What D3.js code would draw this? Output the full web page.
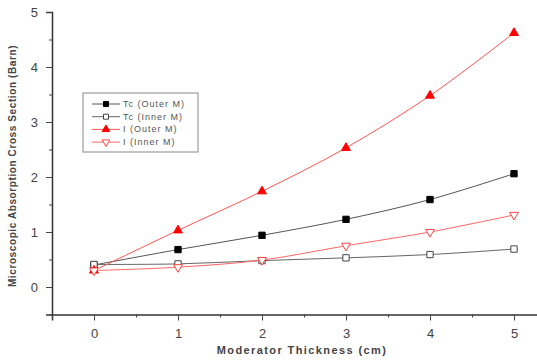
<!DOCTYPE html>
<html>
<head>
<meta charset="utf-8">
<script src="https://cdn.jsdelivr.net/npm/d3@7"></script>
<style>
  body { margin: 0; background: #fff; }
  text { font-family: "Liberation Sans", Arial, sans-serif; fill: #333; }
</style>
</head>
<body>
<div id="chart"></div>
<script>
const width = 537, height = 362;

// data
const thickness = [0, 1, 2, 3, 4, 5];
const tcOuter = [0.40, 0.68, 0.94, 1.23, 1.59, 2.06];
const tcInner = [0.41, 0.42, 0.48, 0.53, 0.59, 0.69];
const iOuter = [0.30, 1.03, 1.74, 2.53, 3.48, 4.62];
const iInner = [0.30, 0.36, 0.49, 0.75, 1.00, 1.31];
const seriesNames = ["Tc (Outer M)", "Tc (Inner M)", "I (Outer M)", "I (Inner M)"];
const xTicks = [0, 1, 2, 3, 4, 5];
const yTicks = [0, 1, 2, 3, 4, 5];

const series = [
    {name: seriesNames[0], values: tcOuter, color: "#000", line: "#555", symbol: d3.symbolSquare, fill: true},
    {name: seriesNames[1], values: tcInner, color: "#444", line: "#666", symbol: d3.symbolSquare, fill: false},
    {name: seriesNames[2], values: iOuter, color: "#f00", line: "#f55", symbol: d3.symbolTriangle, fill: true},
    {name: seriesNames[3], values: iInner, color: "#f44", line: "#f66", symbol: d3.symbolTriangle, fill: false, down: true}
];

const x = d3.scaleLinear().domain([-0.5, 5.5]).range([52, 556]);
const y = d3.scaleLinear().domain([-0.5, 5]).range([314.5, 12]);

const svg = d3.select("#chart").append("svg")
    .attr("width", width)
    .attr("height", height);

// axes
const xAxis = svg.append("g")
    .attr("transform", "translate(0," + y(-0.5) + ")")
    .call(d3.axisBottom(x).tickValues(xTicks).tickSize(6).tickPadding(8).tickFormat(d3.format("d")));
xAxis.select(".domain").attr("stroke", "#333").attr("stroke-width", 1.5);
xAxis.selectAll(".tick line").attr("stroke", "#444");
xAxis.selectAll(".tick text").style("font-size", "13px").style("fill", "#444");
svg.append("g")
    .attr("transform", "translate(0," + y(-0.5) + ")")
    .call(d3.axisBottom(x).tickValues([-0.5, 0.5, 1.5, 2.5, 3.5, 4.5]).tickSize(3).tickFormat(""))
    .call(g => g.select(".domain").remove())
    .selectAll(".tick line").attr("stroke", "#444");

const yAxis = svg.append("g")
    .attr("transform", "translate(" + x(-0.5) + ",0)")
    .call(d3.axisLeft(y).tickValues(yTicks).tickSize(6).tickPadding(8).tickFormat(d3.format("d")));
yAxis.select(".domain").attr("stroke", "#333").attr("stroke-width", 1.5);
yAxis.selectAll(".tick line").attr("stroke", "#444");
yAxis.selectAll(".tick text").style("font-size", "13px").style("fill", "#444");
svg.append("g")
    .attr("transform", "translate(" + x(-0.5) + ",0)")
    .call(d3.axisLeft(y).tickValues([-0.5, 0.5, 1.5, 2.5, 3.5, 4.5]).tickSize(3).tickFormat(""))
    .call(g => g.select(".domain").remove())
    .selectAll(".tick line").attr("stroke", "#444");

// axis titles
svg.append("text")
    .attr("x", 302).attr("y", 354)
    .attr("text-anchor", "middle")
    .style("font-size", "11px").style("font-weight", "bold").style("fill", "#444")
    .style("letter-spacing", "1.4px")
    .text("Moderator Thickness (cm)");
svg.append("text")
    .attr("transform", "translate(16," + y(2.2) + ") rotate(-90)")
    .attr("text-anchor", "middle")
    .style("font-size", "10px").style("font-weight", "bold").style("fill", "#444")
    .style("letter-spacing", "0.6px")
    .text("Microscopic Absorption Cross Section (Barn)");

// lines and markers
const line = d3.line()
    .x((d, i) => x(thickness[i]))
    .y(d => y(d))
    .curve(d3.curveCatmullRom);

const symbolPath = (s, size) => d3.symbol().type(s.symbol).size(size)();

series.forEach(s => {
    svg.append("path")
        .datum(s.values)
        .attr("fill", "none")
        .attr("stroke", s.line)
        .attr("stroke-width", 1)
        .attr("d", line);
    svg.selectAll(null)
        .data(s.values)
        .enter()
        .append("path")
        .attr("transform", (d, i) => "translate(" + x(thickness[i]) + "," + y(d) + ")" + (s.down ? " rotate(180)" : ""))
        .attr("d", symbolPath(s, s.symbol === d3.symbolSquare ? 40 : 34))
        .attr("fill", s.fill ? s.color : "#fff")
        .attr("stroke", s.color)
        .attr("stroke-width", 1);
});

// legend
const legend = svg.append("g").attr("transform", "translate(83,93)");
legend.append("rect")
    .attr("width", 115).attr("height", 59)
    .attr("fill", "#fff").attr("stroke", "#888").attr("stroke-width", 1);
series.forEach((s, i) => {
    const yy = 11 + i * 12.7;
    legend.append("line")
        .attr("x1", 9).attr("x2", 37).attr("y1", yy).attr("y2", yy)
        .attr("stroke", s.line).attr("stroke-width", 1);
    legend.append("path")
        .attr("transform", "translate(23," + yy + ")" + (s.down ? " rotate(180)" : ""))
        .attr("d", symbolPath(s, 25))
        .attr("fill", s.fill ? s.color : "#fff")
        .attr("stroke", s.color);
    legend.append("text")
        .attr("x", 40).attr("y", yy + 3)
        .style("font-size", "9px").style("fill", "#555")
        .style("letter-spacing", "1px")
        .text(s.name);
});
</script>
</body>
</html>
